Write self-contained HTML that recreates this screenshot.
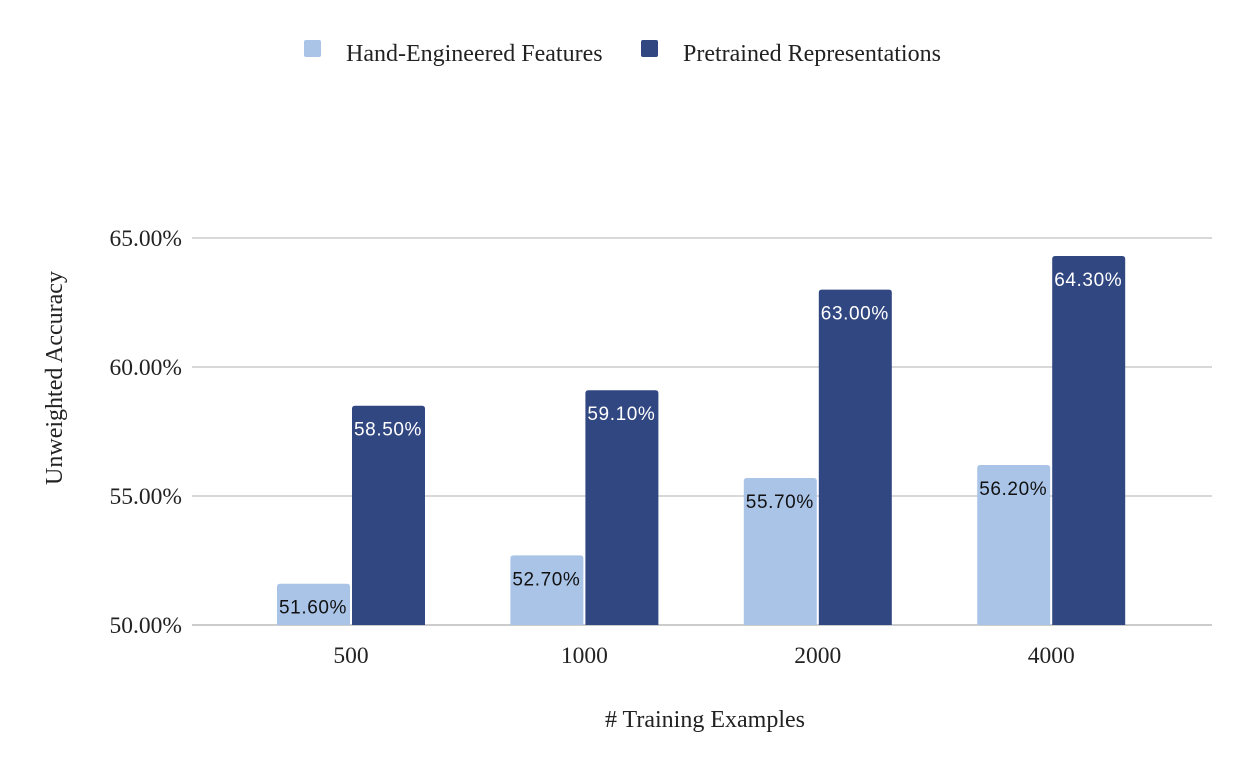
<!DOCTYPE html>
<html><head><meta charset="utf-8"><style>
body{margin:0;background:#fff;}
svg text{font-family:"Liberation Serif",serif;}
</style></head><body>
<svg id="chart" width="1250" height="772" xmlns="http://www.w3.org/2000/svg">
<g>
<rect x="304" y="40" width="17" height="17" rx="2" fill="#aac4e8"/>
<text x="346" y="61" font-size="24" fill="#222">Hand-Engineered Features</text>
<rect x="641" y="40" width="17" height="17" rx="2" fill="#314782"/>
<text x="683" y="61" font-size="24" fill="#222">Pretrained Representations</text>
</g>
<g id="grid"></g><g id="bars"></g><g id="labels"></g>
<text x="705" y="727" font-size="24" text-anchor="middle" fill="#222"># Training Examples</text>
<text transform="translate(62,378) rotate(-90)" font-size="24" text-anchor="middle" fill="#222">Unweighted Accuracy</text>
</svg>
<script>
const categories=["500","1000","2000","4000"];
const handValues=[51.6,52.7,55.7,56.2];
const pretrainedValues=[58.5,59.1,63.0,64.3];
const yTicks=[50,55,60,65];
const NS="http://www.w3.org/2000/svg";
function y(v){return 625-(v-50)*25.8;}
function xc(i){return 351+i*233.4;}
function mk(tag,attrs,parent){const e=document.createElementNS(NS,tag);for(const k in attrs)e.setAttribute(k,attrs[k]);document.getElementById(parent).appendChild(e);return e;}
yTicks.forEach(t=>{
 const l=mk("line",{x1:192,x2:1212,y1:y(t),y2:y(t),stroke:t===50?"#bbb":"#ccc","stroke-width":1.5},"grid");
 
 
 const tx=mk("text",{x:182,y:y(t)+8,"font-size":23.5,"text-anchor":"end",fill:"#222"},"grid");
 tx.textContent=t.toFixed(2)+"%";
 
 
});
categories.forEach((c,i)=>{
 const cx=xc(i);
 const tx=mk("text",{x:cx,y:663,"font-size":23.5,"text-anchor":"middle",fill:"#222"},"grid");
 tx.textContent=c;
 
 
 [[handValues[i],cx-74,"#aac4e8","#111"],[pretrainedValues[i],cx+1,"#314782","#fff"]].forEach(([v,x0,col,tc],k)=>{
  const top=y(v);
  const r=mk("path",{d:`M${x0},625 V${top+3} Q${x0},${top} ${x0+3},${top} H${x0+70} Q${x0+73},${top} ${x0+73},${top+3} V625 Z`,fill:col},"bars");
  
  
  const lt=mk("text",{x:x0+2,y:top+30,"font-size":19,"letter-spacing":"0.6",fill:tc,"style":"font-family:'Liberation Sans',sans-serif"},"labels");
  lt.textContent=v.toFixed(2)+"%";
  
  
 });
});
</script>
</body></html>
